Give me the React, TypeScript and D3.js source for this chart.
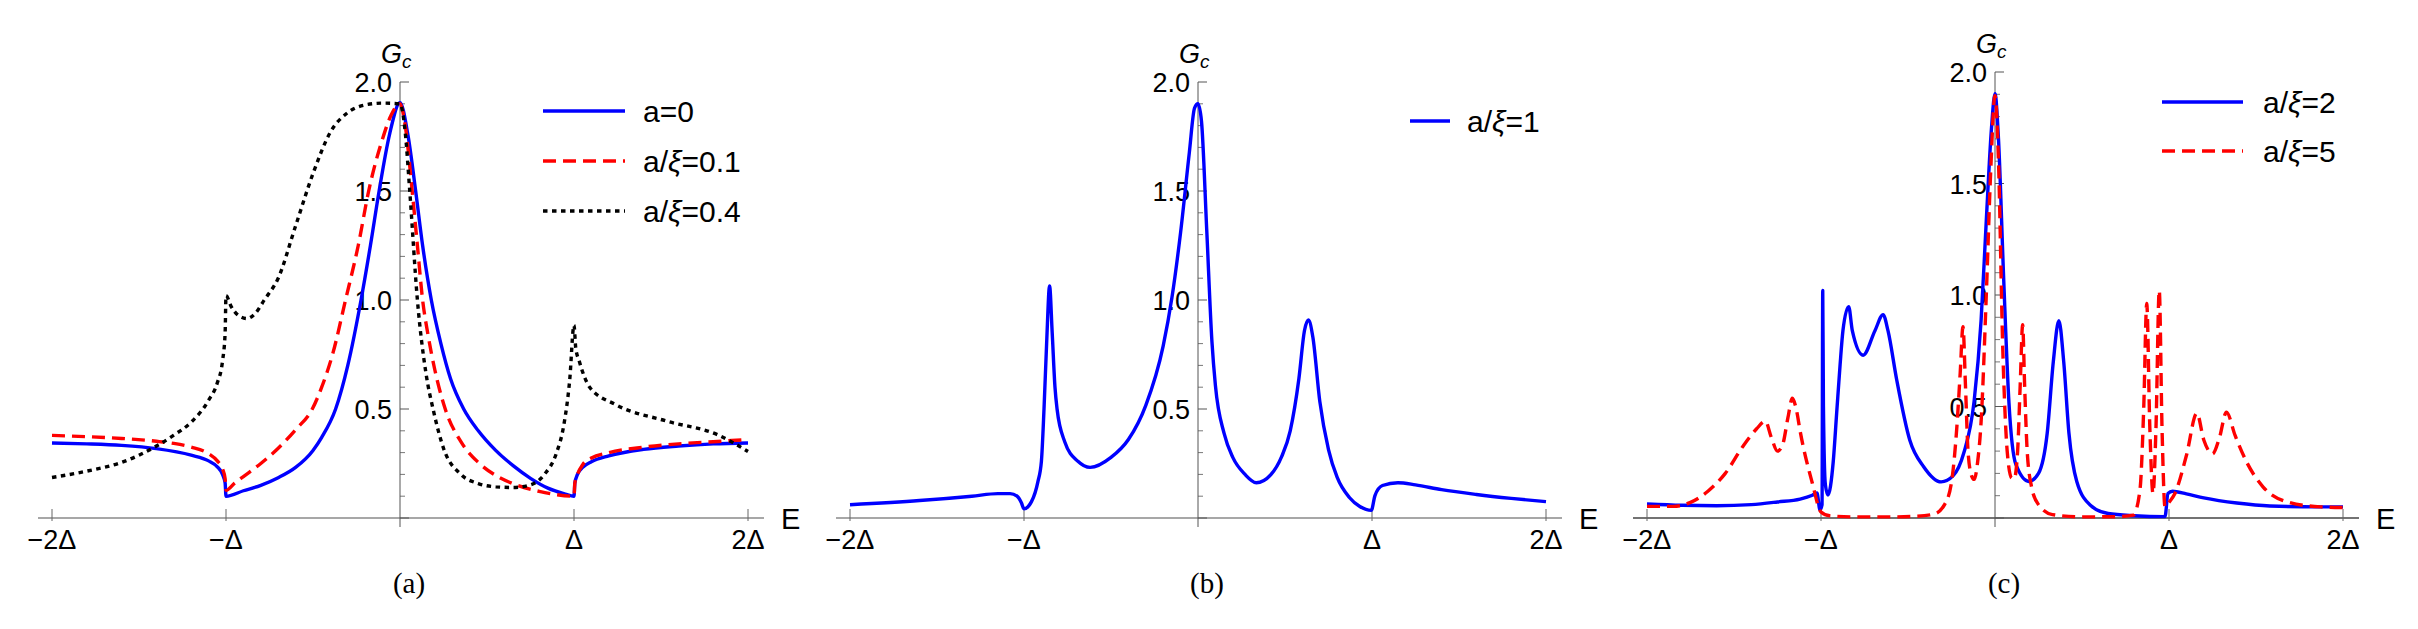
import React from "react";
import * as d3 from "d3";

// ---------- data (E in units of Δ, Gc) ----------
const xTickValues = [-2, -1, 1, 2];
const xTickLabels = ["\u22122\u0394", "\u2212\u0394", "\u0394", "2\u0394"];
const yMajorTicks = [0, 0.5, 1.0, 1.5, 2.0];
const yMajorLabels = ["", "0.5", "1.0", "1.5", "2.0"];
const yMinorTicks = [0.1, 0.2, 0.3, 0.4, 0.6, 0.7, 0.8, 0.9, 1.1, 1.2, 1.3, 1.4, 1.6, 1.7, 1.8, 1.9];

// Panel (a)
const aZero: [number, number][] = [
  [-2, 0.344], [-1.8, 0.34], [-1.6, 0.333], [-1.4, 0.318], [-1.2, 0.288], [-1.1, 0.262], [-1.05, 0.235],
  [-1.02, 0.2], [-1.005, 0.16], [-1.0, 0.1], [-0.9, 0.125], [-0.8, 0.15], [-0.7, 0.185], [-0.6, 0.232],
  [-0.5, 0.31], [-0.45, 0.37], [-0.37, 0.5], [-0.3, 0.7], [-0.224, 1.0], [-0.17, 1.25], [-0.12, 1.5],
  [-0.06, 1.76], [0, 1.905], [0.045, 1.76], [0.09, 1.5], [0.13, 1.25], [0.18, 1.0], [0.235, 0.8],
  [0.29, 0.64], [0.366, 0.5], [0.45, 0.4], [0.55, 0.31], [0.65, 0.24], [0.75, 0.182], [0.85, 0.137],
  [0.95, 0.11], [1.0, 0.1], [1.005, 0.16], [1.02, 0.2], [1.05, 0.232], [1.1, 0.258], [1.2, 0.285],
  [1.4, 0.315], [1.6, 0.33], [1.8, 0.34], [2, 0.344],
];
const aXi01: [number, number][] = [
  [-2, 0.379], [-1.8, 0.373], [-1.6, 0.365], [-1.4, 0.352], [-1.3, 0.342], [-1.2, 0.325], [-1.1, 0.295],
  [-1.05, 0.262], [-1.02, 0.225], [-1.005, 0.18], [-1.0, 0.127], [-0.95, 0.16], [-0.9, 0.19], [-0.8, 0.25],
  [-0.7, 0.32], [-0.6, 0.405], [-0.504, 0.5], [-0.45, 0.6], [-0.386, 0.755], [-0.313, 1.0], [-0.24, 1.25],
  [-0.18, 1.5], [-0.1, 1.74], [-0.05, 1.85], [0, 1.9], [0.03, 1.8], [0.07, 1.5], [0.1, 1.25], [0.13, 1.0],
  [0.16, 0.845], [0.2, 0.68], [0.26, 0.5], [0.35, 0.35], [0.45, 0.255], [0.55, 0.195], [0.65, 0.157],
  [0.8, 0.122], [0.9, 0.107], [1.0, 0.1], [1.005, 0.16], [1.02, 0.2], [1.05, 0.245], [1.1, 0.275],
  [1.2, 0.3], [1.4, 0.325], [1.6, 0.34], [1.8, 0.35], [2, 0.36],
];
const aXi04: [number, number][] = [
  [-2, 0.186], [-1.8, 0.215], [-1.6, 0.255], [-1.4, 0.33], [-1.3, 0.38], [-1.2, 0.44], [-1.1, 0.54],
  [-1.05, 0.62], [-1.02, 0.72], [-1.005, 0.85], [-1.0, 1.02], [-0.97, 0.97], [-0.93, 0.93], [-0.88, 0.915],
  [-0.83, 0.94], [-0.78, 1.0], [-0.7, 1.1], [-0.6, 1.34], [-0.5, 1.58], [-0.4, 1.77], [-0.3, 1.86],
  [-0.2, 1.895], [-0.1, 1.903], [0, 1.9], [0.03, 1.77], [0.056, 1.5], [0.1, 1.0], [0.15, 0.66],
  [0.19, 0.5], [0.25, 0.32], [0.35, 0.2], [0.45, 0.158], [0.55, 0.143], [0.65, 0.14], [0.75, 0.152],
  [0.83, 0.2], [0.9, 0.3], [0.94, 0.42], [0.975, 0.63], [1.0, 0.884], [1.01, 0.78], [1.03, 0.72],
  [1.09, 0.6], [1.24, 0.52], [1.53, 0.445], [1.83, 0.38], [2, 0.305],
];

// Panel (b)
const bXi1: [number, number][] = [
  [-2, 0.061], [-1.6, 0.08], [-1.3, 0.1], [-1.15, 0.112], [-1.08, 0.112], [-1.04, 0.1], [-1.015, 0.07],
  [-1.0, 0.042], [-0.957, 0.075], [-0.92, 0.167], [-0.9, 0.26], [-0.885, 0.5], [-0.87, 0.8],
  [-0.853, 1.064], [-0.838, 0.85], [-0.822, 0.6], [-0.81, 0.5], [-0.766, 0.35], [-0.69, 0.26],
  [-0.62, 0.232], [-0.5, 0.278], [-0.4, 0.36], [-0.3, 0.517], [-0.2, 0.79], [-0.15, 1.01], [-0.1, 1.31],
  [-0.05, 1.675], [-0.02, 1.88], [0, 1.9], [0.02, 1.82], [0.05, 1.325], [0.08, 0.81], [0.1, 0.608],
  [0.15, 0.388], [0.2, 0.278], [0.27, 0.2], [0.335, 0.162], [0.42, 0.2], [0.48, 0.28], [0.53, 0.4],
  [0.58, 0.64], [0.612, 0.86], [0.635, 0.908], [0.66, 0.83], [0.7, 0.535], [0.75, 0.314], [0.8, 0.186],
  [0.87, 0.094], [0.93, 0.053], [0.996, 0.035], [1.017, 0.103], [1.06, 0.149], [1.149, 0.162],
  [1.25, 0.152], [1.4, 0.13], [1.6, 0.108], [1.8, 0.09], [2, 0.075],
];

// Panel (c)
const cXi2: [number, number][] = [
  [-2, 0.063], [-1.8, 0.057], [-1.6, 0.055], [-1.4, 0.06], [-1.25, 0.072], [-1.12, 0.085], [-1.05, 0.102],
  [-1.023, 0.112], [-1.006, 0.036], [-0.994, 0.06], [-0.99, 1.02], [-0.986, 0.5], [-0.975, 0.15],
  [-0.96, 0.103], [-0.93, 0.25], [-0.91, 0.47], [-0.89, 0.69], [-0.874, 0.84], [-0.841, 0.948],
  [-0.82, 0.84], [-0.758, 0.73], [-0.69, 0.84], [-0.643, 0.912], [-0.615, 0.84], [-0.565, 0.62],
  [-0.49, 0.35], [-0.41, 0.23], [-0.31, 0.162], [-0.24, 0.19], [-0.18, 0.29], [-0.12, 0.524],
  [-0.08, 0.885], [-0.05, 1.335], [-0.02, 1.75], [0, 1.903], [0.02, 1.7], [0.05, 1.07], [0.08, 0.52],
  [0.12, 0.24], [0.195, 0.164], [0.25, 0.2], [0.3, 0.38], [0.335, 0.7], [0.367, 0.885], [0.395, 0.7],
  [0.425, 0.38], [0.47, 0.164], [0.55, 0.056], [0.65, 0.02], [0.8, 0.01], [0.977, 0.006], [0.994, 0.11],
  [1.02, 0.12], [1.1, 0.108], [1.2, 0.09], [1.39, 0.067], [1.58, 0.054], [1.87, 0.05], [2, 0.05],
];
const cXi5: [number, number][] = [
  [-2, 0.052], [-1.85, 0.052], [-1.75, 0.07], [-1.65, 0.12], [-1.55, 0.2], [-1.45, 0.32], [-1.37, 0.4],
  [-1.32, 0.434], [-1.285, 0.36], [-1.25, 0.3], [-1.22, 0.33], [-1.19, 0.45], [-1.165, 0.537],
  [-1.14, 0.48], [-1.12, 0.39], [-1.05, 0.157], [-1.0, 0.027], [-0.95, 0.01], [-0.8, 0.005], [-0.6, 0.005],
  [-0.45, 0.008], [-0.35, 0.018], [-0.29, 0.06], [-0.25, 0.16], [-0.22, 0.4], [-0.2, 0.65],
  [-0.184, 0.858], [-0.17, 0.6], [-0.155, 0.3], [-0.135, 0.19], [-0.12, 0.173], [-0.1, 0.25],
  [-0.08, 0.43], [-0.05, 1.0], [-0.025, 1.55], [0, 1.894], [0.02, 1.6], [0.045, 0.75], [0.07, 0.3],
  [0.095, 0.18], [0.11, 0.175], [0.13, 0.3], [0.145, 0.6], [0.159, 0.867], [0.17, 0.6], [0.185, 0.3],
  [0.21, 0.14], [0.25, 0.06], [0.33, 0.015], [0.5, 0.005], [0.7, 0.006], [0.795, 0.013], [0.833, 0.125],
  [0.855, 0.5], [0.872, 0.962], [0.89, 0.4], [0.908, 0.11], [0.925, 0.4], [0.944, 1.02], [0.96, 0.4],
  [0.977, 0.05], [1.0, 0.07], [1.034, 0.11], [1.1, 0.28], [1.16, 0.47], [1.2, 0.35], [1.25, 0.287],
  [1.29, 0.36], [1.33, 0.475], [1.38, 0.37], [1.45, 0.245], [1.54, 0.14], [1.68, 0.072], [1.87, 0.05],
  [2, 0.047],
];

type Series = { data: [number, number][]; color: string; dash?: string; label: string };

const panels = [
  {
    x0: 400, yTop: 82, caption: "(a)", axisColor: "#8a8a8a",
    series: [
      { data: aZero, color: "#0000ff", label: "a=0" },
      { data: aXi01, color: "#ff0000", dash: "13,7", label: "a/\u03be=0.1" },
      { data: aXi04, color: "#000000", dash: "4.5,4.5", label: "a/\u03be=0.4" },
    ] as Series[],
    legend: { x1: 543, x2: 625, tx: 643, ys: [111, 161, 211] },
  },
  {
    x0: 1198, yTop: 82, caption: "(b)", axisColor: "#8a8a8a",
    series: [{ data: bXi1, color: "#0000ff", label: "a/\u03be=1" }] as Series[],
    legend: { x1: 1410, x2: 1450, tx: 1467, ys: [121] },
  },
  {
    x0: 1995, yTop: 72, caption: "(c)", axisColor: "#444444",
    series: [
      { data: cXi2, color: "#0000ff", label: "a/\u03be=2" },
      { data: cXi5, color: "#ff0000", dash: "13,7", label: "a/\u03be=5" },
    ] as Series[],
    legend: { x1: 2162, x2: 2243, tx: 2263, ys: [102, 151] },
  },
];

const DELTA_PX = 174;
const Y0 = 518;
const FONT = "'Liberation Sans', Arial, sans-serif";

function LegendLabel({ text }: { text: string }) {
  const parts = text.split("\u03be");
  if (parts.length === 1) return <>{text}</>;
  return (
    <>
      {parts[0]}
      <tspan fontStyle="italic">{"\u03be"}</tspan>
      {parts[1]}
    </>
  );
}

function Panel({ p }: { p: (typeof panels)[number] }) {
  const x = d3.scaleLinear().domain([-2, 2]).range([p.x0 - 2 * DELTA_PX, p.x0 + 2 * DELTA_PX]);
  const y = d3.scaleLinear().domain([0, 2]).range([Y0, p.yTop]);
  const line = d3
    .line<[number, number]>()
    .x((d) => x(d[0]))
    .y((d) => y(d[1]))
    .curve(d3.curveMonotoneX);
  return (
    <g>
      {/* x axis */}
      <line x1={p.x0 - 362} x2={p.x0 + 364} y1={y(0)} y2={y(0)} stroke={p.axisColor} strokeWidth={1.6} />
      {xTickValues.map((v, i) => (
        <g key={v}>
          <line x1={x(v)} x2={x(v)} y1={y(0) + 3} y2={y(0) - 9} stroke="#666" strokeWidth={1} />
          <text x={x(v)} y={y(0) + 31} textAnchor="middle" fontFamily={FONT} fontSize={27}>
            {xTickLabels[i]}
          </text>
        </g>
      ))}
      <text x={p.x0 + 381} y={y(0) + 11} fontFamily={FONT} fontSize={29}>E</text>
      {/* y axis */}
      <line x1={p.x0} x2={p.x0} y1={y(0) + 9} y2={y(2)} stroke="#555" strokeWidth={1} />
      {yMajorTicks.map((v, i) => (
        <g key={v}>
          <line x1={p.x0} x2={p.x0 + 9} y1={y(v)} y2={y(v)} stroke="#555" strokeWidth={1} />
          {yMajorLabels[i] && (
            <text x={p.x0 - 8} y={y(v) + 10} textAnchor="end" fontFamily={FONT} fontSize={27}>
              {yMajorLabels[i]}
            </text>
          )}
        </g>
      ))}
      {yMinorTicks.map((v) => (
        <line key={v} x1={p.x0} x2={p.x0 + 5} y1={y(v)} y2={y(v)} stroke="#555" strokeWidth={0.8} />
      ))}
      <text x={p.x0 - 19} y={p.yTop - 19} fontFamily={FONT} fontSize={27}>
        <tspan fontStyle="italic">G</tspan>
        <tspan fontStyle="italic" fontSize={19} dy={5}>c</tspan>
      </text>
      {/* curves */}
      {p.series.map((s, i) => (
        <path
          key={i}
          d={line(s.data) || ""}
          fill="none"
          stroke={s.color}
          strokeWidth={3.4}
          strokeDasharray={s.dash}
          strokeLinejoin="round"
        />
      ))}
      {/* legend */}
      {p.series.map((s, i) => (
        <g key={"l" + i}>
          <line
            x1={p.legend.x1}
            x2={p.legend.x2}
            y1={p.legend.ys[i]}
            y2={p.legend.ys[i]}
            stroke={s.color}
            strokeWidth={3.6}
            strokeDasharray={s.dash}
          />
          <text x={p.legend.tx} y={p.legend.ys[i] + 11} fontFamily={FONT} fontSize={30}>
            <LegendLabel text={s.label} />
          </text>
        </g>
      ))}
      {/* caption */}
      <text
        x={p.x0 + 9}
        y={593}
        textAnchor="middle"
        fontFamily="'Liberation Serif', 'DejaVu Serif', serif"
        fontSize={29}
      >
        {p.caption}
      </text>
    </g>
  );
}

export default function App() {
  return (
    <svg
      width={2418}
      height={629}
      viewBox="0 0 2418 629"
      style={{ position: "absolute", left: 0, top: 0, background: "#fff" }}
    >
      <rect width={2418} height={629} fill="#fff" />
      {panels.map((p) => (
        <Panel key={p.caption} p={p} />
      ))}
    </svg>
  );
}
